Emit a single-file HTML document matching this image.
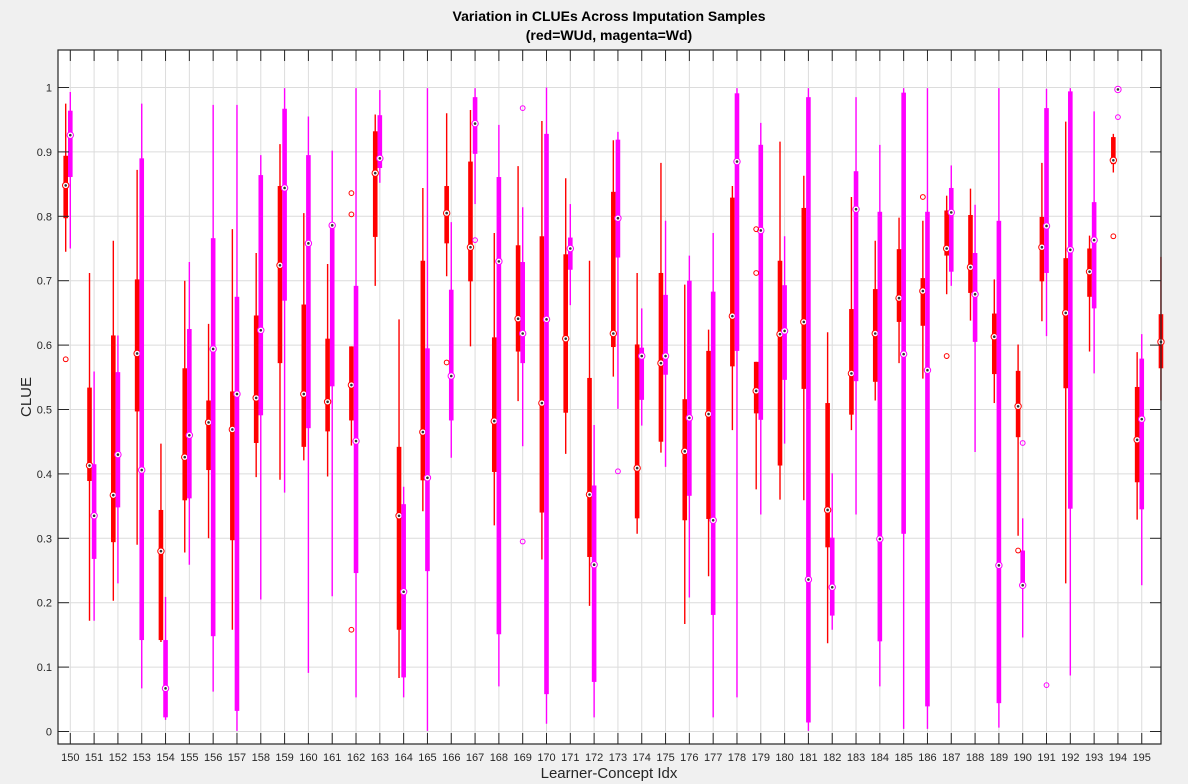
<!DOCTYPE html>
<html><head><meta charset="utf-8">
<style>
html,body{margin:0;padding:0;background:#f0f0f0;}
svg{display:block;font-family:"Liberation Sans",sans-serif;}
</style></head>
<body>
<svg id="chart" width="1188" height="784" viewBox="0 0 1188 784" xmlns="http://www.w3.org/2000/svg">
<rect x="0" y="0" width="1188" height="784" fill="#f0f0f0"/>
<rect x="58" y="50" width="1103" height="694" fill="#ffffff"/>
<g id="grid"></g>
<g id="marks"></g>
<g id="axes"></g>
<text x="609" y="21" text-anchor="middle" font-size="14" font-weight="bold" fill="#000">Variation in CLUEs Across Imputation Samples</text>
<text x="609" y="40" text-anchor="middle" font-size="14" font-weight="bold" fill="#000">(red=WUd, magenta=Wd)</text>
<text x="609" y="778" text-anchor="middle" font-size="15" fill="#262626">Learner-Concept Idx</text>
<text transform="translate(31,397) rotate(-90)" text-anchor="middle" font-size="15" fill="#262626">CLUE</text>
</svg>
<script>
const categories = [150,151,152,153,154,155,156,157,158,159,160,161,162,163,164,165,166,167,168,169,170,171,172,173,174,175,176,177,178,179,180,181,182,183,184,185,186,187,188,189,190,191,192,193,194,195,196];
const xTickLabels = [150,151,152,153,154,155,156,157,158,159,160,161,162,163,164,165,166,167,168,169,170,171,172,173,174,175,176,177,178,179,180,181,182,183,184,185,186,187,188,189,190,191,192,193,194,195];
const yTickValues = [0,0.1,0.2,0.3,0.4,0.5,0.6,0.7,0.8,0.9,1];
const yTickLabels = ["0","0.1","0.2","0.3","0.4","0.5","0.6","0.7","0.8","0.9","1"];
// red = WUd : [min, q1, median, q3, max]
const redStats = [
[.745,.797,.848,.894,.975],[.172,.389,.413,.534,.712],[.203,.294,.367,.615,.762],[.290,.497,.587,.702,.872],
[.139,.142,.280,.344,.447],[.278,.359,.426,.564,.700],[.300,.406,.480,.514,.633],[.158,.297,.469,.528,.780],
[.395,.448,.518,.646,.743],[.391,.572,.724,.847,.912],[.421,.442,.524,.663,.805],[.396,.466,.512,.610,.726],
[.444,.483,.538,.598,.598],[.692,.768,.867,.932,.958],[.083,.158,.335,.442,.640],[.342,.390,.465,.731,.844],
[.707,.758,.805,.847,.960],[.598,.699,.752,.885,.965],[.320,.403,.482,.612,.774],[.513,.590,.641,.755,.878],
[.267,.340,.510,.769,.948],[.431,.495,.610,.741,.859],[.195,.271,.368,.549,.731],[.551,.597,.618,.838,.918],
[.307,.331,.409,.601,.712],[.433,.450,.572,.712,.883],[.167,.328,.435,.516,.694],[.241,.330,.493,.591,.624],
[.468,.567,.645,.829,.847],[.376,.494,.529,.574,.574],[.360,.413,.617,.731,.916],[.359,.532,.636,.813,.863],
[.137,.286,.344,.510,.620],[.468,.492,.556,.656,.830],[.514,.543,.618,.687,.762],[.572,.636,.673,.749,.798],
[.548,.630,.684,.704,.793],[.679,.739,.750,.809,.832],[.638,.681,.721,.802,.843],[.510,.555,.613,.649,.702],
[.304,.457,.505,.560,.601],[.637,.699,.752,.799,.883],[.230,.533,.650,.735,.947],[.590,.675,.714,.750,.770],
[.868,.881,.887,.923,.928],[.329,.387,.453,.535,.589],[.514,.564,.605,.648,.737]
];
// magenta = Wd
const magentaStats = [
[.750,.861,.926,.964,.993],[.172,.268,.335,.415,.559],[.230,.348,.430,.558,.615],[.067,.142,.406,.890,.975],
[.018,.022,.067,.142,.209],[.259,.362,.460,.625,.729],[.062,.148,.594,.766,.973],[.001,.032,.524,.675,.973],
[.205,.491,.623,.864,.895],[.371,.669,.844,.967,.999],[.091,.471,.758,.895,.955],[.210,.536,.786,.788,.902],
[.053,.246,.451,.692,.999],[.852,.875,.890,.957,.996],[.053,.084,.217,.353,.380],[.001,.249,.394,.595,.999],
[.425,.483,.552,.686,.791],[.819,.897,.944,.985,.999],[.070,.151,.730,.861,.942],[.443,.572,.618,.729,.814],
[.012,.058,.640,.928,1.0],[.662,.717,.750,.767,.819],[.022,.077,.259,.382,.476],[.501,.736,.797,.919,.931],
[.475,.515,.583,.596,.657],[.411,.554,.583,.678,.793],[.208,.366,.487,.700,.739],[.022,.181,.328,.683,.774],
[.053,.591,.885,.991,.999],[.337,.484,.778,.911,.945],[.447,.546,.622,.693,.769],[.001,.014,.236,.985,.999],
[.158,.180,.224,.301,.401],[.337,.544,.811,.870,.985],[.070,.140,.299,.807,.911],[.004,.307,.586,.992,.999],
[.004,.039,.561,.807,.999],[.692,.714,.806,.844,.879],[.434,.605,.679,.743,.818],[.006,.044,.258,.793,.999],
[.146,.227,.227,.281,.331],[.614,.712,.785,.968,.998],[.087,.346,.748,.994,.999],[.556,.657,.763,.822,.963],
[.997,.997,.997,.997,.997],[.227,.345,.485,.579,.617],null
];
const redOutlierIdx = [150,162,162,162,166,179,179,186,187,190,194];
const redOutlierVal = [.578,.836,.803,.158,.573,.780,.712,.830,.583,.281,.769];
const magOutlierIdx = [167,169,169,173,190,191,194];
const magOutlierVal = [.763,.968,.295,.404,.448,.072,.954];

const NS = "http://www.w3.org/2000/svg";
const X0 = 70.3, DX = 23.81, Y0 = 731.5, YS = 644;
const L = 58, R = 1161, T = 50, B = 744;
function xScale(c){ return X0 + (c - 150) * DX; }
function yScale(v){ return Y0 - v * YS; }
function mk(tag, attrs, parent){
  const e = document.createElementNS(NS, tag);
  for (const k in attrs) e.setAttribute(k, attrs[k]);
  parent.appendChild(e);
  return e;
}
const grid = document.getElementById('grid');
const axes = document.getElementById('axes');
const marks = document.getElementById('marks');

xTickLabels.forEach(c => {
  const x = xScale(c);
  const g = mk('line', {x1:x, x2:x, y1:T, y2:B, stroke:'#dcdcdc', 'stroke-width':1}, grid);
  
  
});
yTickValues.forEach(v => {
  const y = yScale(v);
  const g = mk('line', {x1:L, x2:R, y1:y, y2:y, stroke:'#dcdcdc', 'stroke-width':1}, grid);
  
  
});

function drawSeries(stats, color, offset, name){
  stats.forEach((s, i) => {
    if (!s) return;
    const x = xScale(categories[i]) + offset;
    const g = mk('g', {}, marks);
    
    
    mk('line', {x1:x, x2:x, y1:yScale(s[4]), y2:yScale(s[0]), stroke:color, 'stroke-width':1.4}, g);
    const top = yScale(s[3]), bot = yScale(s[1]);
    mk('rect', {x:x-2.3, y:top, width:4.6, height:Math.max(bot-top,0.8), fill:color}, g);
    const my = yScale(s[2]);
    mk('circle', {cx:x, cy:my, r:3.2, fill:'#ffffff', stroke:color, 'stroke-width':1}, g);
    mk('circle', {cx:x, cy:my, r:1.3, fill:'#333333'}, g);
  });
}
drawSeries(redStats, '#ff0000', -4.6, 'red-wud');
drawSeries(magentaStats, '#ff00ff', 0, 'magenta-wd');

function drawOutliers(idx, vals, color, name){
  idx.forEach((c, i) => {
    const o = mk('circle', {cx:xScale(c) + (color === '#ff0000' ? -4.6 : 0), cy:yScale(vals[i]), r:2.4, fill:'none', stroke:color, 'stroke-width':1}, marks);
    
    
  });
}
drawOutliers(redOutlierIdx, redOutlierVal, '#ff0000', 'red-wud');
drawOutliers(magOutlierIdx, magOutlierVal, '#ff00ff', 'magenta-wd');

// axes frame and ticks
const frame = mk('rect', {x:L, y:T, width:R-L, height:B-T, fill:'none', stroke:'#262626', 'stroke-width':1.2}, axes);


xTickLabels.forEach(c => {
  const x = xScale(c);
  mk('line', {x1:x, x2:x, y1:B, y2:B-11, stroke:'#262626', 'stroke-width':1}, axes);
  mk('line', {x1:x, x2:x, y1:T, y2:T+11, stroke:'#262626', 'stroke-width':1}, axes);
  const t = mk('text', {x:x, y:B+17, 'text-anchor':'middle', 'font-size':11, fill:'#262626'}, axes);
  t.textContent = c;
  
  
});
yTickValues.forEach((v, i) => {
  const y = yScale(v);
  mk('line', {x1:L, x2:L+11, y1:y, y2:y, stroke:'#262626', 'stroke-width':1}, axes);
  mk('line', {x1:R, x2:R-11, y1:y, y2:y, stroke:'#262626', 'stroke-width':1}, axes);
  const t = mk('text', {x:L-6, y:y+4, 'text-anchor':'end', 'font-size':11, fill:'#262626'}, axes);
  t.textContent = yTickLabels[i];
  
  
});
</script>
</body></html>
